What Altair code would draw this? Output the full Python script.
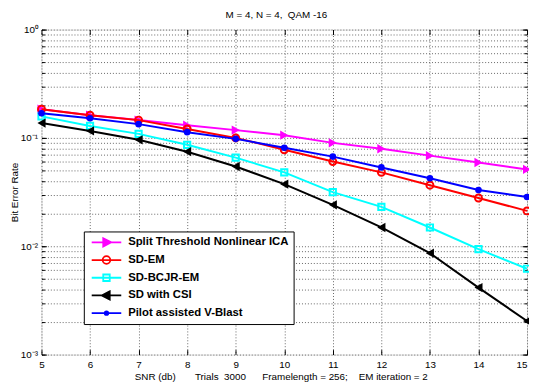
import altair as alt
import pandas as pd

# ---------------- data ----------------
snr = [5, 6, 7, 8, 9, 10, 11, 12, 13, 14, 15]
series_names = [
    "Split Threshold Nonlinear ICA",
    "SD-EM",
    "SD-BCJR-EM",
    "SD with CSI",
    "Pilot assisted V-Blast",
]
ber_split = [0.184, 0.162, 0.146, 0.131, 0.118, 0.106, 0.090, 0.0794, 0.0686, 0.0593, 0.0512]
ber_sdem = [0.184, 0.162, 0.146, 0.121, 0.100, 0.0778, 0.0605, 0.0481, 0.0366, 0.0279, 0.0212]
ber_bcjr = [0.158, 0.129, 0.109, 0.0864, 0.0658, 0.0481, 0.0316, 0.0231, 0.0149, 0.0094, 0.0062]
ber_csi = [0.137, 0.116, 0.096, 0.0746, 0.0545, 0.0374, 0.0241, 0.0149, 0.00863, 0.00415, 0.00204]
ber_pilot = [0.169, 0.152, 0.134, 0.113, 0.098, 0.0811, 0.0672, 0.0534, 0.0424, 0.0330, 0.0285]
all_ber = [ber_split, ber_sdem, ber_bcjr, ber_csi, ber_pilot]

colors = ["#ff00ff", "#ff0000", "#00ffff", "#000000", "#0000ff"]
y_major = [0.001, 0.01, 0.1, 1]
y_minor = [0.001, 0.002, 0.003, 0.004, 0.005, 0.006, 0.007, 0.008, 0.009,
           0.01, 0.02, 0.03, 0.04, 0.05, 0.06, 0.07, 0.08, 0.09,
           0.1, 0.2, 0.3, 0.4, 0.5, 0.6, 0.7, 0.8, 0.9, 1]

title_text = "M = 4, N = 4, \u00a0QAM -16"
x_title = ("SNR (db)\u00a0\u00a0\u00a0\u00a0\u00a0\u00a0\u00a0Trials\u00a0\u00a03000"
           "\u00a0\u00a0\u00a0\u00a0\u00a0\u00a0Framelength = 256;\u00a0\u00a0\u00a0\u00a0EM iteration = 2")
y_title = "Bit Error Rate"

rows = []
for name, vals in zip(series_names, all_ber):
    for s, v in zip(snr, vals):
        rows.append({"snr": s, "ber": v, "series": name})
df = pd.DataFrame(rows)

FONT = "Liberation Sans"

# marker styles: shape, filled, size, strokeWidth
markers = [
    ("triangle-right", True, 90, 1),
    ("circle", False, 50, 2),
    ("square", False, 40, 2),
    ("triangle-left", True, 90, 1),
    ("circle", True, 45, 1),
]

# legend symbols: line + marker (units scaled by sqrt(size)/2)
legend_paths = [
    "M-1,0L1,0M-0.22,-0.28L0.32,0L-0.22,0.28ZM-0.12,-0.12L0.14,0L-0.12,0.12Z",
    "M-1,0L1,0M-0.26,0A0.26,0.26,0,1,0,0.26,0A0.26,0.26,0,1,0,-0.26,0Z",
    "M-1,0L1,0M-0.22,-0.22L0.22,-0.22L0.22,0.22L-0.22,0.22Z",
    "M-1,0L1,0M0.22,-0.28L-0.32,0L0.22,0.28ZM0.12,-0.12L-0.14,0L0.12,0.12Z",
    "M-1,0L1,0M-0.12,0A0.12,0.12,0,1,0,0.12,0A0.12,0.12,0,1,0,-0.12,0Z",
]

x_scale = alt.Scale(domain=[5, 15], nice=False, zero=False)
y_scale = alt.Scale(type="log", domain=[0.001, 1], nice=False)

base = alt.Chart(df)


def ghost(xaxis, yaxis):
    return base.mark_line(opacity=0).encode(
        x=alt.X("snr:Q", scale=x_scale, axis=xaxis),
        y=alt.Y("ber:Q", scale=y_scale, axis=yaxis),
        detail="series:N",
    )


grid_kw = dict(grid=True, gridColor="#666666", gridDash=[1, 2], gridWidth=1,
               labels=False, ticks=False, domain=False, title=None)

layers = []
# grid lines
layers.append(ghost(alt.Axis(orient="bottom", values=snr, **grid_kw),
                    alt.Axis(orient="left", values=y_minor, **grid_kw)))

# inward ticks
tick_kw = dict(grid=False, labels=False, domain=False, title=None, ticks=True,
               tickColor="black", tickWidth=1)
layers.append(ghost(alt.Axis(orient="bottom", values=snr, offset=-5, tickSize=5, **tick_kw),
                    alt.Axis(orient="left", values=y_major, offset=-5, tickSize=5, **tick_kw)))
layers.append(ghost(alt.Axis(orient="top", values=snr, offset=-5, tickSize=5, **tick_kw),
                    alt.Axis(orient="right", values=y_major, offset=-5, tickSize=5, **tick_kw)))
layers.append(ghost(None, alt.Axis(orient="left", values=y_minor, offset=-3, tickSize=3, **tick_kw)))
layers.append(ghost(None, alt.Axis(orient="right", values=y_minor, offset=-3, tickSize=3, **tick_kw)))

# labelled axes
label_expr = ("datum.value > 0.5 ? '10\u2070' : datum.value > 0.05 ? '10\u207b\u00b9' : "
              "datum.value > 0.005 ? '10\u207b\u00b2' : '10\u207b\u00b3'")
layers.append(ghost(
    alt.Axis(orient="bottom", values=snr, grid=False, ticks=False, domain=False,
             labelFontSize=10, labelPadding=5, labelFlush=False, labelColor="black",
             labelAlign={"condition": {"test": "datum.value >= 15", "value": "right"},
                         "value": "center"},
             labelFont=FONT, title=x_title, titleFont=FONT, titleFontSize=10,
             titleFontWeight="normal", titleColor="black", titlePadding=2, titleX=243),
    alt.Axis(orient="left", values=y_major, grid=False, ticks=False, domain=False,
             labelFontSize=10, labelPadding=4, labelColor="black", labelFont=FONT,
             labelExpr=label_expr, title=y_title, titleFont=FONT, titleFontSize=10,
             titleFontWeight="normal", titleColor="black", titlePadding=1),
))

# series: line + markers
for name, col, (shape, filled, size, sw) in zip(series_names, colors, markers):
    sub = base.transform_filter(alt.datum.series == name)
    layers.append(sub.mark_line(color=col, strokeWidth=2).encode(
        x=alt.X("snr:Q", scale=x_scale, axis=None),
        y=alt.Y("ber:Q", scale=y_scale, axis=None),
    ))
    layers.append(sub.mark_point(shape=shape, filled=filled, color=col, size=size,
                                 strokeWidth=sw, opacity=1).encode(
        x=alt.X("snr:Q", scale=x_scale, axis=None),
        y=alt.Y("ber:Q", scale=y_scale, axis=None),
    ))

legend = alt.Legend(
    title=None, orient="none", legendX=43, legendY=205,
    symbolSize=900, symbolStrokeWidth=1.8, symbolOpacity=1,
    clipHeight=12, rowPadding=6, padding=5, symbolOffset=2, labelOffset=6,
    labelFont=FONT, labelFontSize=11.5, labelFontWeight="bold", labelColor="black",
    strokeColor="black", fillColor="white", labelLimit=400,
)

layers.append(base.mark_point(opacity=0, filled=False).encode(
    x=alt.X("snr:Q", scale=x_scale, axis=None),
    y=alt.Y("ber:Q", scale=y_scale, axis=None),
    color=alt.Color("series:N", scale=alt.Scale(domain=series_names, range=colors), legend=legend),
    shape=alt.Shape("series:N", scale=alt.Scale(domain=series_names, range=legend_paths), legend=legend),
))

chart = alt.layer(*layers).resolve_axis(x="independent", y="independent").properties(
    width=493, height=330,
    autosize=alt.AutoSizeParams(type="none"),
    padding={"left": 34, "top": 19, "right": 2, "bottom": 29},
    title=alt.TitleParams(text=title_text, font=FONT, fontSize=10, fontWeight="normal",
                          color="black", anchor="middle", offset=5, dx=-8),
).configure_view(stroke="black", strokeWidth=1).configure(font=FONT)

chart.save("out.html", embed_options={"renderer": "svg", "actions": False})
